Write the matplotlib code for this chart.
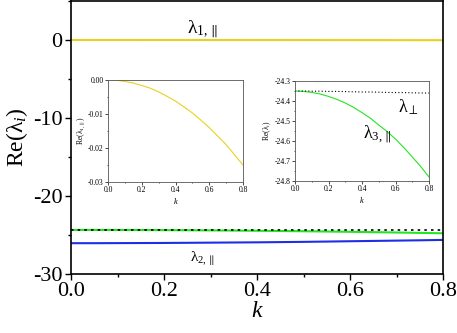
import numpy as np
import matplotlib.pyplot as plt
from matplotlib.ticker import MultipleLocator

plt.rcParams['font.family'] = ['Liberation Serif', 'DejaVu Serif']
plt.rcParams['mathtext.fontset'] = 'custom'
plt.rcParams['mathtext.rm'] = 'Liberation Serif'
plt.rcParams['mathtext.it'] = 'Liberation Serif:italic'
plt.rcParams['axes.unicode_minus'] = False

# values
k = [0.0, 0.05, 0.1, 0.15, 0.2, 0.25, 0.3, 0.35, 0.4, 0.45,
     0.5, 0.55, 0.6, 0.65, 0.7, 0.75, 0.8]
lam1 = [0.0, -0.0001, -0.0004, -0.0009, -0.0016, -0.0024, -0.0035, -0.0048, -0.0062,
        -0.0079, -0.0097, -0.0118, -0.014, -0.0165, -0.019, -0.022, -0.025]
lam2 = [-26.05, -26.05, -26.04, -26.03, -26.02, -26.0, -25.98, -25.96, -25.94,
        -25.91, -25.88, -25.84, -25.80, -25.76, -25.72, -25.68, -25.63]
lam3 = [-24.35, -24.352, -24.357, -24.365, -24.377, -24.392, -24.41, -24.432, -24.458,
        -24.486, -24.52, -24.553, -24.59, -24.633, -24.68, -24.727, -24.78]
lam_perp = [-24.35, -24.35, -24.351, -24.351, -24.352, -24.352, -24.353, -24.354, -24.355,
            -24.355, -24.356, -24.357, -24.358, -24.358, -24.359, -24.36, -24.36]

yellow = '#e8d21e'
green = '#22e622'
blue = '#1e2ee6'

fig = plt.figure(figsize=(4.57, 3.33), dpi=100)
ax = fig.add_axes([71/457, 1 - 274/333, 372/457, 273/333])
ax.plot(k, lam1, color=yellow, lw=1.5)
ax.plot(k, lam3, color=green, lw=1.5)
ax.plot(k, lam2, color=blue, lw=1.5)
ax.plot(k, lam_perp, color='black', ls=(0, (1.5, 2.5)), lw=1.2)
ax.set_xlim(0, 0.8)
ax.set_ylim(-30, 5)
ax.xaxis.set_major_locator(MultipleLocator(0.2))
ax.xaxis.set_minor_locator(MultipleLocator(0.1))
ax.yaxis.set_major_locator(MultipleLocator(10))
ax.yaxis.set_minor_locator(MultipleLocator(5))
ax.tick_params(labelsize=16, direction='out', length=4, width=1, pad=2)
ax.tick_params(which='minor', direction='out', length=2.5, width=1)
for s in ax.spines.values():
    s.set_linewidth(1.2)
ax.set_xlabel('$k$', fontsize=17, labelpad=0)
ax.set_ylabel('Re(λ$_{i}$)', fontsize=17, labelpad=2)
ax.text(0.283, 0.9, 'λ$_{1,\\parallel}$', fontsize=14, ha='center')
ax.text(0.283, -28.4, 'λ$_{2,\\parallel}$', fontsize=11, ha='center')

# inset 1
a1 = fig.add_axes([108/457, 1 - 182/333, 135/457, 102/333])
a1.plot(k, lam1, color=yellow, lw=0.8)
a1.set_xlim(0, 0.8)
a1.set_ylim(-0.03, 0.0)
a1.xaxis.set_major_locator(MultipleLocator(0.2))
a1.xaxis.set_minor_locator(MultipleLocator(0.1))
a1.yaxis.set_major_locator(MultipleLocator(0.01))
a1.yaxis.set_minor_locator(MultipleLocator(0.005))
a1.yaxis.set_major_formatter(plt.FormatStrFormatter('%.2f'))
a1.set_ylabel('Re(λ$_{1,\\parallel}$)', fontsize=5.5, labelpad=1)
a1.set_xlabel('$k$', fontsize=6, labelpad=1)

# inset 2
a2 = fig.add_axes([295/457, 1 - 181/333, 134/457, 100/333])
a2.plot(k, lam3, color=green, lw=0.8)
a2.plot(k, lam_perp, color='black', ls=(0, (1, 2)), lw=0.8)
a2.set_xlim(0, 0.8)
a2.set_ylim(-24.8, -24.3)
a2.xaxis.set_major_locator(MultipleLocator(0.2))
a2.xaxis.set_minor_locator(MultipleLocator(0.1))
a2.yaxis.set_major_locator(MultipleLocator(0.1))
a2.yaxis.set_minor_locator(MultipleLocator(0.05))
a2.yaxis.set_major_formatter(plt.FormatStrFormatter('%.1f'))
a2.set_ylabel('Re(λ$_{i}$)', fontsize=5.5, labelpad=1)
a2.set_xlabel('$k$', fontsize=6, labelpad=1)
a2.text(0.675, -24.43, 'λ$_{\\perp}$', fontsize=13, ha='center', va='center')
a2.text(0.49, -24.57, 'λ$_{3,\\parallel}$', fontsize=13, ha='center', va='center')

for a in (a1, a2):
    a.tick_params(labelsize=5.5, length=2, width=0.5, pad=1)
    a.tick_params(which='minor', length=1, width=0.5)
    for s in a.spines.values():
        s.set_linewidth(0.6)
        s.set_color('#555555')

fig.savefig('out.png', dpi=100)
